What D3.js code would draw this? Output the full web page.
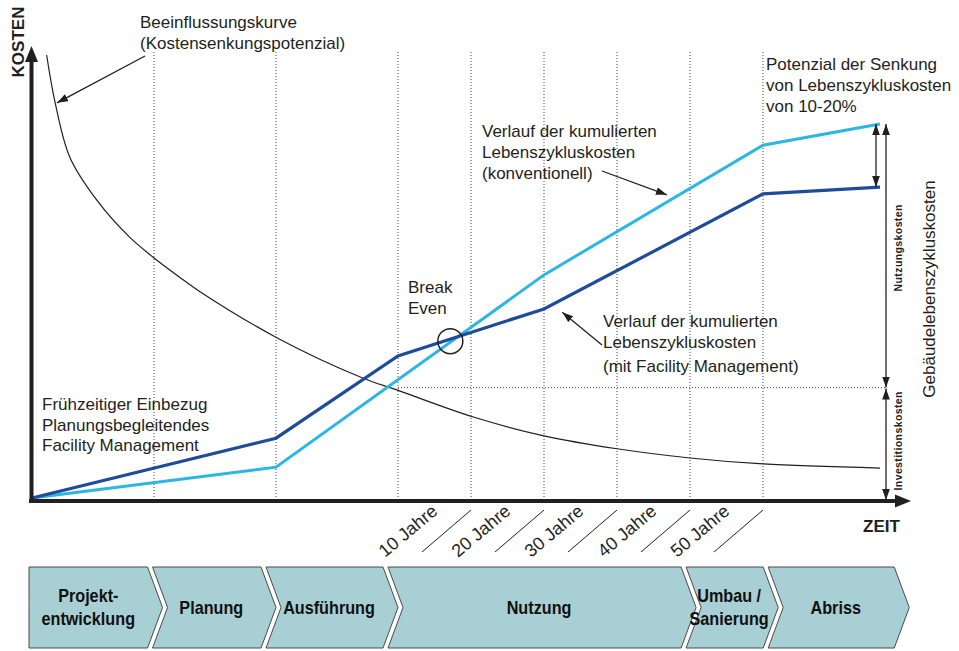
<!DOCTYPE html>
<html>
<head>
<meta charset="utf-8">
<script src="https://cdn.jsdelivr.net/npm/d3@7"></script>
<style>
  html, body { margin: 0; padding: 0; background: #fff; }
  svg { display: block; font-family: "Liberation Sans", Arial, sans-serif; }
  .note { font-size: 17px; fill: #231f20; }
</style>
</head>
<body>
<div id="chart"></div>
<script>
// time axis in "phase units": 1 unit per planning phase, 0.6 per decade of use
const gridTicks = [1, 2, 3, 3.6, 4.2, 4.8, 5.4, 6];
const decadeLabels = ['10 Jahre', '20 Jahre', '30 Jahre', '40 Jahre', '50 Jahre'];

// cumulated life-cycle costs, with facility management
const fmX = [0, 2, 3, 4.2, 6, 7];
const fmY = [0, 13.0, 30.9, 41.1, 66.1, 67.6];

// cumulated life-cycle costs, conventional
const convX = [0, 2, 4.2, 6, 7];
const convY = [0, 6.7, 48.5, 76.7, 81.3];

// influence curve (cost reduction potential)
const inflX = [0.12, 0.19, 0.31, 0.53, 0.80, 0.99, 1.21, 1.38, 2.01, 2.71, 2.99, 3.62, 4.2, 4.8, 5.4, 6.0, 7.0];
const inflY = [96.3, 85.9, 74.1, 64.8, 56.7, 52.4, 48.0, 44.8, 34.8, 26.1, 23.5, 17.6, 13.5, 10.7, 8.7, 7.4, 6.5];

const investLevel = 24;

const phaseNames = [['Projekt-', 'entwicklung'], ['Planung'], ['Ausführung'], ['Nutzung'], ['Umbau /', 'Sanierung'], ['Abriss']];
const phaseEnds = [1.07, 2.0, 3.0, 5.45, 6.13, 7.25];

const W = 959, H = 651;
const INK = '#231f20';
const FM_BLUE = '#1f4b9b';
const CONV_BLUE = '#2bb6e3';

const x = d3.scaleLinear().domain([0, 3, 6, 7]).range([32, 398, 763, 880]);
const y = d3.scaleLinear().domain([0, 100]).range([498, 38]);

const svg = d3.select('#chart').append('svg')
  .attr('width', W).attr('height', H);

const defs = svg.append('defs');
defs.append('marker')
  .attr('id', 'head')
  .attr('viewBox', '0 0 10 7')
  .attr('refX', 10).attr('refY', 3.5)
  .attr('markerWidth', 11).attr('markerHeight', 8)
  .attr('markerUnits', 'userSpaceOnUse')
  .attr('orient', 'auto-start-reverse')
  .append('path').attr('d', 'M0,0L10,3.5L0,7Z').attr('fill', INK);

// vertical dotted grid
svg.append('g').selectAll('line')
  .data(gridTicks)
  .join('line')
    .attr('x1', d => x(d)).attr('x2', d => x(d))
    .attr('y1', 52).attr('y2', 500)
    .attr('stroke', '#444').attr('stroke-width', 1)
    .attr('stroke-dasharray', '1,2');

// investment level dotted line
svg.append('line')
  .attr('x1', x(3)).attr('x2', 886)
  .attr('y1', y(investLevel)).attr('y2', y(investLevel))
  .attr('stroke', '#444').attr('stroke-width', 1)
  .attr('stroke-dasharray', '1,2');

// influence curve
const inflLine = d3.line().x(d => x(d[0])).y(d => y(d[1])).curve(d3.curveCatmullRom.alpha(0.5));
svg.append('path')
  .attr('d', inflLine(d3.zip(inflX, inflY)))
  .attr('fill', 'none').attr('stroke', INK).attr('stroke-width', 1.2);

// cost lines
const costLine = d3.line().x(d => x(d[0])).y(d => y(d[1]));
svg.append('path')
  .attr('d', costLine(d3.zip(convX, convY)))
  .attr('fill', 'none').attr('stroke', CONV_BLUE).attr('stroke-width', 3);
svg.append('path')
  .attr('d', costLine(d3.zip(fmX, fmY)))
  .attr('fill', 'none').attr('stroke', FM_BLUE).attr('stroke-width', 3.2);

// axes
svg.append('line').attr('x1', 31.5).attr('x2', 31.5).attr('y1', 503).attr('y2', 60)
  .attr('stroke', INK).attr('stroke-width', 4);
svg.append('path').attr('d', 'M31.5,46L38,62L25,62Z').attr('fill', INK);
svg.append('line').attr('x1', 29).attr('x2', 897).attr('y1', 501).attr('y2', 501)
  .attr('stroke', INK).attr('stroke-width', 4);
svg.append('path').attr('d', 'M911,501L895,494.5L895,507.5Z').attr('fill', INK);

svg.append('text')
  .attr('transform', 'translate(24,42) rotate(-90)')
  .attr('text-anchor', 'middle')
  .attr('font-size', 17).attr('font-weight', 'bold').attr('fill', INK)
  .text('KOSTEN');
svg.append('text')
  .attr('x', 863).attr('y', 532)
  .attr('font-size', 17).attr('font-weight', 'bold').attr('fill', INK)
  .text('ZEIT');

// decade labels and slashes
const dec = svg.append('g');
decadeLabels.forEach((lab, i) => {
  const x0 = x(gridTicks[2 + i]);
  const x1 = x(gridTicks[3 + i]);
  dec.append('text')
    .attr('transform', `translate(${x0 - 13},${558}) rotate(-40)`)
    .attr('font-size', 18).attr('fill', INK)
    .text(lab);
  dec.append('line')
    .attr('x1', x0 + 24).attr('y1', 552)
    .attr('x2', x1).attr('y2', 510)
    .attr('stroke', INK).attr('stroke-width', 1);
});

// text notes
function note(lines, x0, y0, dy) {
  const t = svg.append('text').attr('class', 'note').attr('x', x0).attr('y', y0);
  lines.forEach((l, i) => {
    t.append('tspan').attr('x', x0).attr('dy', i === 0 ? 0 : (Array.isArray(dy) ? dy[i - 1] : dy)).text(l);
  });
}
note(['Beeinflussungskurve', '(Kostensenkungspotenzial)'], 140, 28, 21);
note(['Potenzial der Senkung', 'von Lebenszykluskosten', 'von 10-20%'], 766, 70, 21);
note(['Verlauf der kumulierten', 'Lebenszykluskosten', '(konventionell)'], 482, 137, 21);
note(['Break', 'Even'], 408, 293, 21);
note(['Verlauf der kumulierten', 'Lebenszykluskosten', '(mit Facility Management)'], 603, 327, [21, 24]);
note(['Frühzeitiger Einbezug', 'Planungsbegleitendes', 'Facility Management'], 42, 410, 20.5);

// pointer arrows
function arrow(x1, y1, x2, y2, both) {
  const l = svg.append('line')
    .attr('x1', x1).attr('y1', y1).attr('x2', x2).attr('y2', y2)
    .attr('stroke', INK).attr('stroke-width', 1.3)
    .attr('marker-end', 'url(#head)');
  if (both) l.attr('marker-start', 'url(#head)');
}
arrow(145, 56, x(0.205), y(85.9));
arrow(602, 171, x(5.21), y(65.9));
arrow(602, 345, x(4.35), y(40.4));

// break-even circle
svg.append('circle')
  .attr('cx', x(3.43)).attr('cy', y(34.1)).attr('r', 12.5)
  .attr('fill', 'none').attr('stroke', INK).attr('stroke-width', 1.5);

// cost spans on the right
const topCost = convY[convY.length - 1];
arrow(876, y(topCost), 876, y(fmY[fmY.length - 1]), true);
arrow(886, y(topCost), 886, y(investLevel), true);
arrow(886, y(investLevel) + 1, 886, y(0) + 2, true);

svg.append('text')
  .attr('transform', `translate(902,${(y(topCost) + y(investLevel)) / 2 - 8}) rotate(-90)`)
  .attr('text-anchor', 'middle').attr('font-size', 10.5).attr('font-weight', 'bold')
  .attr('letter-spacing', 0.4).attr('fill', INK)
  .text('Nutzungskosten');
svg.append('text')
  .attr('transform', `translate(902,${(y(investLevel) + y(0)) / 2 - 2}) rotate(-90)`)
  .attr('text-anchor', 'middle').attr('font-size', 10.5).attr('font-weight', 'bold')
  .attr('letter-spacing', 0.4).attr('fill', INK)
  .text('Investitionskosten');
svg.append('text')
  .attr('transform', 'translate(935,289) rotate(-90)')
  .attr('text-anchor', 'middle').attr('font-size', 17).attr('fill', INK)
  .text('Gebäudelebenszykluskosten');

// phase chevrons
const TOP = 567, BOT = 648, MID = (TOP + BOT) / 2, DEPTH = 15, GAP = 5;
const ph = svg.append('g');
let prevTip = null;
phaseEnds.forEach((end, i) => {
  const tip = x(end);
  const body = tip - DEPTH;
  const left = prevTip === null ? 29 : prevTip - DEPTH + GAP;
  const notch = prevTip === null ? 29 : prevTip + GAP;
  const pts = [[left, TOP], [body, TOP], [tip, MID], [body, BOT], [left, BOT], [notch, MID]];
  ph.append('path')
    .attr('d', 'M' + pts.map(p => p.join(',')).join('L') + 'Z')
    .attr('fill', '#a8cfd3').attr('stroke', '#4a4a4a').attr('stroke-width', 1);
  const cx = (left + body) / 2 + (prevTip === null ? 0 : DEPTH / 2 - 3);
  const lines = phaseNames[i];
  const t = ph.append('text')
    .attr('transform', `translate(${cx},${MID + 6 - (lines.length - 1) * 12}) scale(0.9,1)`)
    .attr('text-anchor', 'middle')
    .attr('font-size', 18).attr('font-weight', 'bold').attr('fill', '#111');
  lines.forEach((l, j) => t.append('tspan').attr('x', 0).attr('dy', j === 0 ? 0 : 24).text(l));
  prevTip = tip;
});
</script>
</body>
</html>
